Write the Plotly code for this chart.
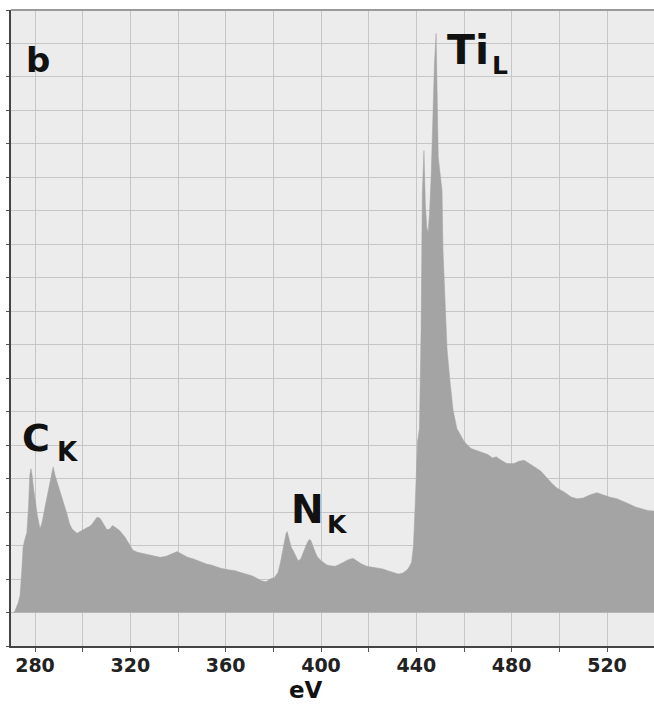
import plotly.graph_objects as go

# Energy loss (eV) and intensity (grid units above baseline)
energy = [271.0, 271.6, 273.0, 273.7, 274.4, 275.0, 275.8, 276.6, 277.3, 277.8, 278.3, 278.8, 279.4,
          280.0, 281.0, 282.1, 283.0, 284.2, 285.5, 286.7, 287.6, 288.4, 289.5, 290.5, 291.8, 293.4,
          294.5, 295.5, 297.6, 299.5, 301.8, 303.5, 305.0, 306.0, 307.3, 308.1, 309.2, 310.2, 311.5,
          312.5, 313.6, 315.5, 317.8, 319.5, 321.1, 323.0, 324.1, 326.0, 328.3, 330.5, 332.5, 335.0,
          337.5, 339.6, 341.5, 343.8, 346.5, 349.2, 352.0, 354.0, 356.4, 358.0, 361.0, 364.0, 366.0,
          369.0, 371.0, 373.2, 375.0, 377.0, 378.6, 380.5, 382.0, 383.0, 383.8, 384.6, 385.3, 385.8,
          386.5, 387.5, 388.3, 389.3, 390.4, 391.5, 392.8, 394.0, 395.0, 395.8, 396.8, 398.3, 400.0,
          401.5, 402.5, 404.0, 406.0, 408.0, 410.0, 411.5, 413.4, 415.0, 417.0, 419.3, 421.5, 424.0,
          426.0, 428.0, 430.2, 432.5, 434.4, 436.5, 438.0, 438.8, 439.5, 440.0, 440.5, 441.3, 442.0,
          442.5, 443.2, 443.8, 444.4, 444.9, 445.5, 446.2, 446.8, 447.6, 448.3, 448.7, 449.2, 450.0,
          450.8, 451.2, 452.0, 452.9, 454.2, 455.4, 457.0, 458.5, 460.0, 461.5, 463.0, 465.0, 467.0,
          470.0, 472.0, 473.5, 475.6, 478.0, 481.0, 483.0, 485.2, 487.0, 489.0, 492.3, 495.0, 497.0,
          499.0, 502.0, 505.0, 507.4, 510.0, 513.0, 515.8, 518.0, 521.0, 524.2, 527.0, 530.0, 532.0,
          534.3, 537.0, 539.8]
intensity = [0.0, 0.05, 0.3, 0.5, 1.2, 1.95, 2.2, 2.4, 3.2, 4.1, 4.3, 4.1, 3.7,
             3.35, 2.9, 2.5, 2.7, 3.15, 3.6, 4.1, 4.35, 4.1, 3.85, 3.65, 3.3, 2.95,
             2.65, 2.5, 2.37, 2.45, 2.55, 2.6, 2.75, 2.85, 2.82, 2.72, 2.6, 2.47, 2.5,
             2.6, 2.55, 2.45, 2.25, 2.05, 1.86, 1.8, 1.78, 1.75, 1.72, 1.68, 1.65, 1.68,
             1.75, 1.82, 1.75, 1.66, 1.6, 1.52, 1.45, 1.42, 1.36, 1.32, 1.28, 1.25, 1.2,
             1.15, 1.1, 1.02, 0.95, 0.92, 1.0, 1.05, 1.2, 1.5, 1.8, 2.1, 2.35, 2.42,
             2.2, 1.95, 1.85, 1.7, 1.55, 1.6, 1.85, 2.05, 2.18, 2.15, 1.95, 1.68, 1.55,
             1.48, 1.42, 1.4, 1.38, 1.45, 1.52, 1.58, 1.62, 1.55, 1.45, 1.38, 1.36, 1.34,
             1.3, 1.25, 1.2, 1.15, 1.18, 1.3, 1.5, 2.0, 3.2, 4.5, 5.1, 5.5, 8.5,
             12.5, 13.8, 12.2, 11.5, 11.35, 11.9, 13.0, 14.8, 16.4, 17.3, 14.8, 13.6, 13.1,
             12.6, 10.8, 9.2, 7.85, 6.86, 6.06, 5.5, 5.3, 5.12, 5.0, 4.9, 4.85, 4.8,
             4.72, 4.62, 4.65, 4.55, 4.45, 4.45, 4.52, 4.55, 4.48, 4.38, 4.22, 4.0, 3.85,
             3.72, 3.6, 3.45, 3.4, 3.42, 3.52, 3.58, 3.52, 3.45, 3.4, 3.32, 3.22, 3.15,
             3.1, 3.05, 3.03]

x_ticks = [280, 300, 320, 340, 360, 380, 400, 420, 440, 460, 480, 500, 520]
x_tick_text = ["280", "", "320", "", "360", "", "400", "", "440", "", "480", "", "520"]

W, H = 654, 708
L, R, T, B = 11, 0, 10, 62


def px(x):
    return (x - L) / (W - L - R)


def py(y):
    return (H - B - y) / (H - T - B)


FONT = "DejaVu Sans"

fig = go.Figure()
fig.add_trace(go.Scatter(
    x=energy, y=intensity, mode="lines", fill="tozeroy",
    line=dict(color="#a4a4a4", width=0.5), fillcolor="#a4a4a4",
    hoverinfo="skip", showlegend=False))

labels = [
    ("b", 37.5, 60, 34),
    ("C", 36, 438, 38),
    ("K", 67, 452, 26),
    ("N", 307, 509, 39),
    ("K", 337.5, 524, 25),
    ("Ti", 467.5, 50, 41),
    ("L", 500, 66, 25),
    ("eV", 306, 690, 23),
]
annotations = []
for txt, ax_, ay_, fs in labels:
    annotations.append(dict(
        text=txt, x=px(ax_), y=py(ay_), xref="paper", yref="paper",
        xanchor="center", yanchor="middle", showarrow=False,
        font=dict(family=FONT, size=fs, color="#111111", weight="bold")))

fig.update_layout(
    width=W, height=H,
    margin=dict(l=L, r=R, t=T, b=B, pad=0, autoexpand=False),
    paper_bgcolor="white", plot_bgcolor="#ececec",
    annotations=annotations,
    shapes=[dict(type="line", xref="paper", yref="paper", x0=0, x1=1, y0=1, y1=1,
                 line=dict(color="#9a9a9a", width=2))],
    xaxis=dict(
        range=[269.93, 539.72], tickvals=x_ticks, ticktext=x_tick_text,
        showgrid=True, gridcolor="#c6c6c6", gridwidth=1.3,
        showline=True, linecolor="#444444", linewidth=2,
        ticks="outside", ticklen=4, tickcolor="#555555",
        ticklabelstandoff=-3,
        tickfont=dict(family=FONT, size=19, color="#222222", weight="bold"),
        automargin=False, zeroline=False),
    yaxis=dict(
        range=[-1.0, 18.0], tick0=0, dtick=1,
        showgrid=True, gridcolor="#c6c6c6", gridwidth=1.3,
        showline=True, linecolor="#444444", linewidth=2,
        ticks="outside", ticklen=3, tickcolor="#555555",
        showticklabels=False, automargin=False, zeroline=False),
)

fig.write_html("out.html", config={"displayModeBar": False},
               post_script="document.body.style.margin='0';document.body.style.overflow='hidden';")
